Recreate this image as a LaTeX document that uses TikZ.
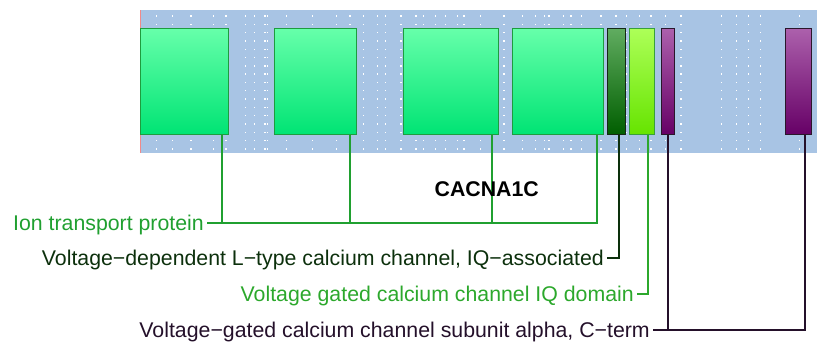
\documentclass[tikz,border=0pt]{standalone}
\usepackage{fontspec}
\setmainfont{Liberation Sans}
\usepackage{tikz}
\usetikzlibrary{calc}
\definecolor{BgBlue}   {HTML}{A8C4E4}
\definecolor{BgRed}    {HTML}{F08A8A}
\definecolor{IonTop}   {HTML}{66FFAA}
\definecolor{IonBot}   {HTML}{00E474}
\definecolor{IonEdge}  {HTML}{1E9C3E}
\definecolor{IonLine}  {HTML}{20A030}
\definecolor{DkTop}    {HTML}{60AC60}
\definecolor{DkBot}    {HTML}{005E00}
\definecolor{DkEdge}   {HTML}{142814}
\definecolor{DkLine}   {HTML}{0C300C}
\definecolor{LimeTop}  {HTML}{ADFF58}
\definecolor{LimeBot}  {HTML}{66E400}
\definecolor{LimeEdge} {HTML}{38A038}
\definecolor{LimeLine} {HTML}{2CA82C}
\definecolor{PurTop}   {HTML}{AC60AC}
\definecolor{PurBot}   {HTML}{660066}
\definecolor{PurEdge}  {HTML}{2A162A}
\definecolor{PurLine}  {HTML}{24102A}
\tikzset{
  dom/.style={draw, line width=1.2pt, inner sep=0pt, minimum height=106pt},
  lbl/.style={anchor=base east, inner sep=3pt, yshift=-7.6pt,
              font=\fontsize{21.3}{25}\selectfont},
  con/.style={line width=1.6pt}
}

\begin{document}
\begin{tikzpicture}[x=1pt,y=-1pt,
  ion/.style={dom,draw=IonEdge,top color=IonTop,bottom color=IonBot},
  dkq/.style={dom,draw=DkEdge,top color=DkTop,bottom color=DkBot},
  iqd/.style={dom,draw=LimeEdge,top color=LimeTop,bottom color=LimeBot},
  cterm/.style={dom,draw=PurEdge,top color=PurTop,bottom color=PurBot}
]
  \useasboundingbox (0,0) rectangle (817,343);
  % protein backbone
  \fill[BgBlue] (140,10) rectangle (817,153);
  \draw[BgRed,line width=1pt] (140.5,10) -- (140.5,153);
  \foreach \x in {156.7,172.7,191,213.3,226,245.7,254.3,265,267.3,286.7,
                  312.7,336.7,350,363.3,377.3,385.7,401,416,423.3,435.7,
                  445.7,457.7,464,480.7,504,522.7,535.7,544.3,549,563.3,
                  571,581.7,601,616,626.7,639.3,651,665.7,681,721.7,
                  736.7,748.7,760.7,799.3}
    \foreach \k in {0,...,16}
      \fill[white] (\x-0.7,15.3+8.3*\k) rectangle ++(1.4,1.4);

  % domains
  \node[ion,minimum width=88pt]   (D1) at (184.5,81.5) {};
  \node[ion,minimum width=82pt]   (D2) at (315.5,81.5) {};
  \node[ion,minimum width=95pt]   (D3) at (451,81.5)   {};
  \node[ion,minimum width=91pt]   (D4) at (558,81.5)   {};
  \node[dkq,minimum width=18pt]   (D5) at (616.5,81.5) {};
  \node[iqd,minimum width=25pt]   (D6) at (642,81.5)   {};
  \node[cterm,minimum width=13pt] (D7) at (668,81.5)   {};
  \node[cterm,minimum width=26pt] (D8) at (798.5,81.5) {};

  \foreach \i in {1,...,8}
    \coordinate (p\i) at ([xshift=-7pt]D\i.south east);

  % label ends
  \coordinate (ionE) at (207,223);
  \coordinate (dkE)  at (607,258);
  \coordinate (iqE)  at (637,294);
  \coordinate (ctE)  at (653,330);

  \node[lbl,text=IonLine] (ionL) at (ionE) {Ion transport protein};
  \node[lbl,text=DkLine]  (dkL)  at (dkE)
    {Voltage−dependent L−type calcium channel, IQ−associated};
  \node[lbl,text=LimeLine](iqL)  at (iqE)  {Voltage gated calcium channel IQ domain};
  \node[lbl,text=PurLine] (ctL)  at (ctE)
    {Voltage−gated calcium channel subunit alpha, C−term};

  % connectors
  \foreach \p in {p1,p2,p3,p4}
    \draw[con,IonLine] (ionE) -| (\p);
  \draw[con,DkLine]   (dkE) -| (p5);
  \draw[con,LimeLine] (iqE) -| (p6);
  \draw[con,PurLine]  (ctE) -| (p7);
  \draw[con,PurLine]  (ctE) -| (p8);

  \node[font=\fontsize{21.3}{25}\selectfont\bfseries] (Name) at (486.7,188.7) {CACNA1C};
\end{tikzpicture}
\end{document}
